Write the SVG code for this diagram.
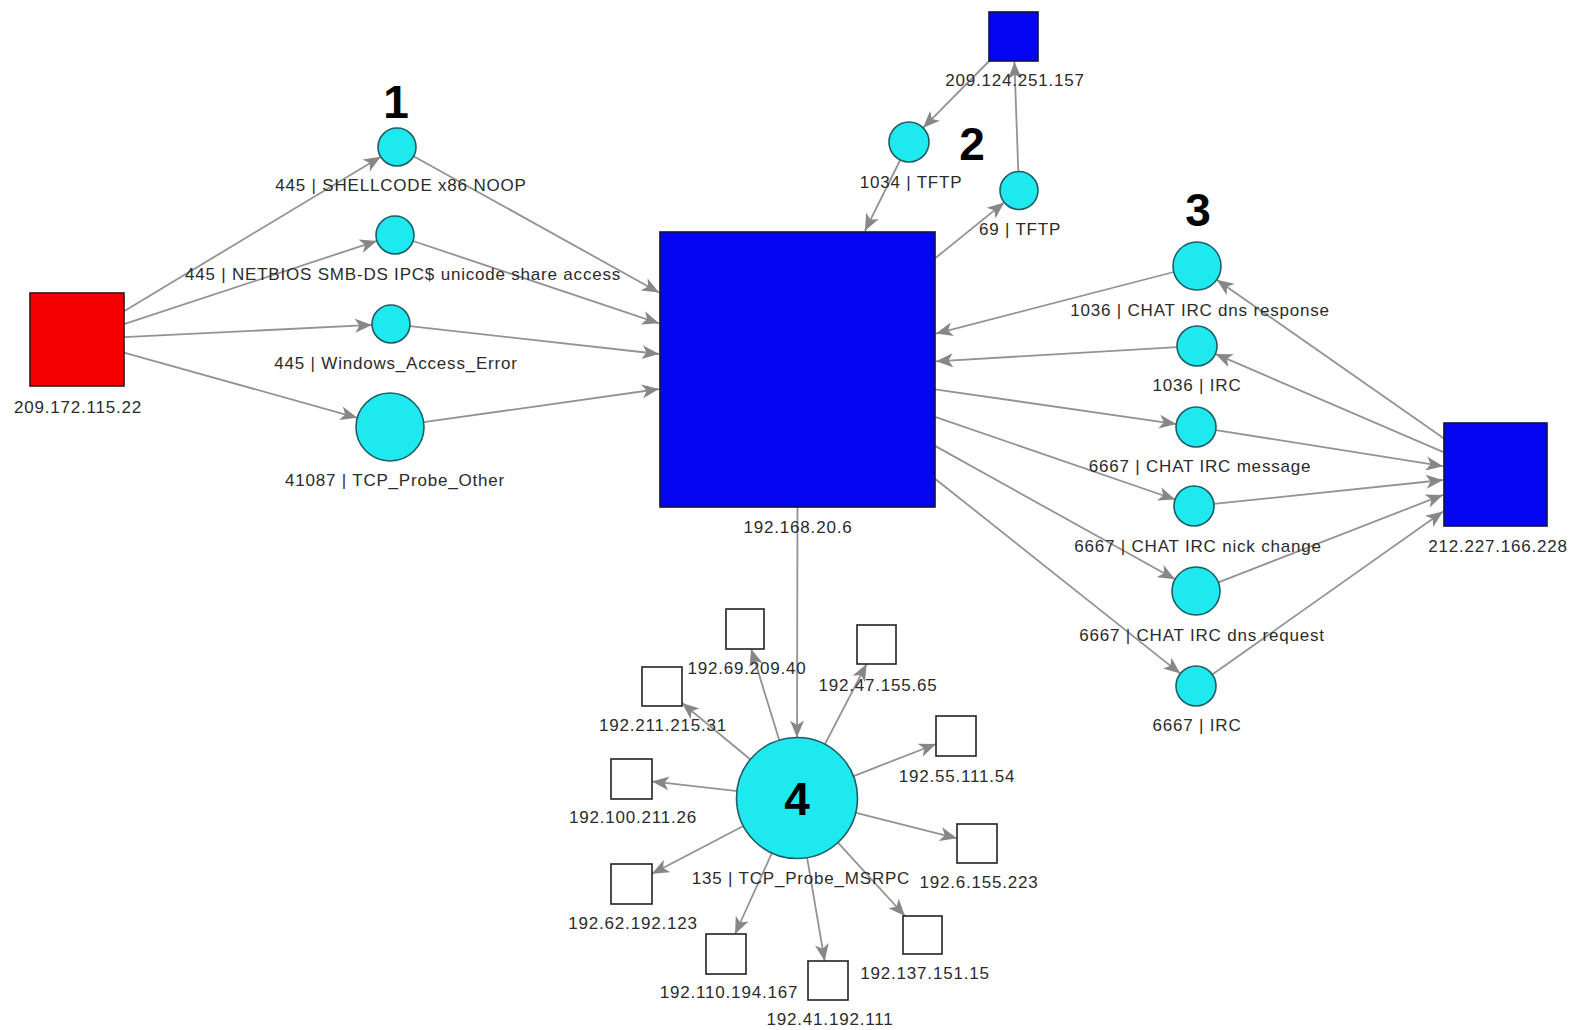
<svg xmlns="http://www.w3.org/2000/svg" width="1569" height="1030" viewBox="0 0 1569 1030">
  <defs>
    <style>
      .edge { stroke: #939393; stroke-width: 1.8; fill: none; marker-end: url(#arrow); }
      .event { fill: #1ee9ee; stroke: #1d5d63; stroke-width: 1.6; }
      .host-blue { fill: #0505f2; stroke: #10104a; stroke-width: 1.6; }
      .host-red { fill: #f50000; stroke: #3a1010; stroke-width: 1.6; }
      .host-white { fill: #ffffff; stroke: #222222; stroke-width: 1.6; }
      .lbl { font-family: "Liberation Sans", Arial, sans-serif; font-size: 17px; letter-spacing: 0.8px; fill: #2b2b2b; text-anchor: middle; }
      .num { font-family: "Liberation Sans", Arial, sans-serif; font-size: 46px; font-weight: bold; fill: #000000; text-anchor: middle; }
    </style>
    <marker id="arrow" markerUnits="userSpaceOnUse" markerWidth="18" markerHeight="15" refX="17" refY="7.5" orient="auto">
      <path d="M0,0.5 L17,7.5 L0,14.5 L4.5,7.5 Z" fill="#878787"/>
    </marker>
  </defs>
  <rect width="1569" height="1030" fill="#ffffff"/>

  <!-- connectors -->
  <g id="connectors">
    <!-- attacker to alert nodes -->
    <line class="edge" x1="124" y1="311.2" x2="380.7" y2="156.8"/>
    <line class="edge" x1="124" y1="324.1" x2="376.9" y2="240.9"/>
    <line class="edge" x1="124" y1="337.2" x2="372" y2="324.9"/>
    <line class="edge" x1="124" y1="352.6" x2="357.3" y2="417.8"/>
    <!-- alert nodes to victim -->
    <line class="edge" x1="413.6" y1="156.2" x2="659" y2="292.5"/>
    <line class="edge" x1="413" y1="241" x2="659" y2="323.3"/>
    <line class="edge" x1="409.9" y1="326.1" x2="659" y2="354"/>
    <line class="edge" x1="423.7" y1="422.2" x2="659" y2="389"/>
    <!-- TFTP exchange -->
    <line class="edge" x1="989.2" y1="61" x2="923.1" y2="127.8"/>
    <line class="edge" x1="900.2" y1="160" x2="864.9" y2="231"/>
    <line class="edge" x1="935" y1="258.4" x2="1004.2" y2="202.4"/>
    <line class="edge" x1="1018.3" y1="171.5" x2="1014.4" y2="62"/>
    <!-- IRC exchange -->
    <line class="edge" x1="1173.8" y1="272" x2="936" y2="333.6"/>
    <line class="edge" x1="1177" y1="347.2" x2="936" y2="361.3"/>
    <line class="edge" x1="935" y1="389.3" x2="1176.2" y2="424.1"/>
    <line class="edge" x1="935" y1="416.8" x2="1175.1" y2="499.5"/>
    <line class="edge" x1="935" y1="445.9" x2="1175" y2="579.3"/>
    <line class="edge" x1="935" y1="478.7" x2="1180.3" y2="673.6"/>
    <line class="edge" x1="1444" y1="438.5" x2="1216.7" y2="279.7"/>
    <line class="edge" x1="1444" y1="452.3" x2="1215.4" y2="353.9"/>
    <line class="edge" x1="1215.8" y1="430.1" x2="1443" y2="466.2"/>
    <line class="edge" x1="1213.9" y1="503.9" x2="1443" y2="480"/>
    <line class="edge" x1="1218.4" y1="582.3" x2="1443" y2="494.9"/>
    <line class="edge" x1="1212.3" y1="674.5" x2="1443" y2="511.6"/>
    <!-- victim to MSRPC probe -->
    <line class="edge" x1="797.5" y1="507" x2="797" y2="737.5"/>
    <!-- MSRPC probe fan-out -->
    <line class="edge" x1="779.4" y1="740.6" x2="751.2" y2="649"/>
    <line class="edge" x1="824.7" y1="744.7" x2="866.6" y2="664"/>
    <line class="edge" x1="750.7" y1="759.8" x2="682" y2="703"/>
    <line class="edge" x1="852.9" y1="776.3" x2="936" y2="744"/>
    <line class="edge" x1="737.4" y1="791.2" x2="652" y2="781.4"/>
    <line class="edge" x1="855.2" y1="812.7" x2="957" y2="838.3"/>
    <line class="edge" x1="743.8" y1="825.8" x2="652" y2="873.8"/>
    <line class="edge" x1="772.1" y1="852.6" x2="735.1" y2="934"/>
    <line class="edge" x1="837.5" y1="842.2" x2="905" y2="916"/>
    <line class="edge" x1="807" y1="857.2" x2="824.7" y2="961"/>
  </g>

  <!-- hosts -->
  <g id="host-209.172.115.22">
    <rect class="host-red" x="30" y="293" width="94" height="93"/>
    <text class="lbl" x="78" y="413">209.172.115.22</text>
  </g>
  <g id="host-192.168.20.6">
    <rect class="host-blue" x="660" y="232" width="275" height="275"/>
    <text class="lbl" x="798" y="533">192.168.20.6</text>
  </g>
  <g id="host-209.124.251.157">
    <rect class="host-blue" x="989" y="12" width="49" height="49"/>
    <text class="lbl" x="1015" y="86">209.124.251.157</text>
  </g>
  <g id="host-212.227.166.228">
    <rect class="host-blue" x="1444" y="423" width="103" height="103"/>
    <text class="lbl" x="1498" y="552">212.227.166.228</text>
  </g>

  <!-- alert events, group 1 -->
  <g id="evt-shellcode">
    <circle class="event" cx="397" cy="147" r="19"/>
    <text class="lbl" x="401" y="191">445 | SHELLCODE x86 NOOP</text>
  </g>
  <g id="evt-netbios">
    <circle class="event" cx="395" cy="235" r="19"/>
    <text class="lbl" x="403" y="280">445 | NETBIOS SMB-DS IPC$ unicode share access</text>
  </g>
  <g id="evt-win-access">
    <circle class="event" cx="391" cy="324" r="19"/>
    <text class="lbl" x="396" y="369">445 | Windows_Access_Error</text>
  </g>
  <g id="evt-tcp-probe-other">
    <circle class="event" cx="390" cy="427" r="34"/>
    <text class="lbl" x="395" y="486">41087 | TCP_Probe_Other</text>
  </g>

  <!-- group 2: TFTP -->
  <g id="evt-tftp-1034">
    <circle class="event" cx="909" cy="142" r="20"/>
    <text class="lbl" x="911" y="188">1034 | TFTP</text>
  </g>
  <g id="evt-tftp-69">
    <circle class="event" cx="1019" cy="190.5" r="19"/>
    <text class="lbl" x="1020" y="235">69 | TFTP</text>
  </g>

  <!-- group 3: IRC -->
  <g id="evt-irc-dns-response">
    <circle class="event" cx="1197" cy="266" r="24"/>
    <text class="lbl" x="1200" y="316">1036 | CHAT IRC dns response</text>
  </g>
  <g id="evt-irc-1036">
    <circle class="event" cx="1197" cy="346" r="20"/>
    <text class="lbl" x="1197" y="391">1036 | IRC</text>
  </g>
  <g id="evt-irc-message">
    <circle class="event" cx="1196" cy="427" r="20"/>
    <text class="lbl" x="1200" y="472">6667 | CHAT IRC message</text>
  </g>
  <g id="evt-irc-nick">
    <circle class="event" cx="1194" cy="506" r="20"/>
    <text class="lbl" x="1198" y="552">6667 | CHAT IRC nick change</text>
  </g>
  <g id="evt-irc-dns-request">
    <circle class="event" cx="1196" cy="591" r="24"/>
    <text class="lbl" x="1202" y="641">6667 | CHAT IRC dns request</text>
  </g>
  <g id="evt-irc-6667">
    <circle class="event" cx="1196" cy="686" r="20"/>
    <text class="lbl" x="1197" y="731">6667 | IRC</text>
  </g>

  <!-- group 4: MSRPC probe and scanned hosts -->
  <g id="evt-msrpc">
    <circle class="event" cx="797" cy="798" r="60.5"/>
    <text class="lbl" x="801" y="884">135 | TCP_Probe_MSRPC</text>
  </g>
  <g id="host-192.69.209.40">
    <rect class="host-white" x="726" y="609" width="38" height="40"/>
    <text class="lbl" x="747" y="674">192.69.209.40</text>
  </g>
  <g id="host-192.47.155.65">
    <rect class="host-white" x="857" y="625" width="39" height="39"/>
    <text class="lbl" x="878" y="691">192.47.155.65</text>
  </g>
  <g id="host-192.211.215.31">
    <rect class="host-white" x="642" y="667" width="40" height="39"/>
    <text class="lbl" x="663" y="731">192.211.215.31</text>
  </g>
  <g id="host-192.55.111.54">
    <rect class="host-white" x="936" y="716" width="40" height="40"/>
    <text class="lbl" x="957" y="782">192.55.111.54</text>
  </g>
  <g id="host-192.100.211.26">
    <rect class="host-white" x="611" y="759" width="41" height="40"/>
    <text class="lbl" x="633" y="823">192.100.211.26</text>
  </g>
  <g id="host-192.6.155.223">
    <rect class="host-white" x="957" y="824" width="40" height="39"/>
    <text class="lbl" x="979" y="888">192.6.155.223</text>
  </g>
  <g id="host-192.62.192.123">
    <rect class="host-white" x="611" y="864" width="41" height="40"/>
    <text class="lbl" x="633" y="929">192.62.192.123</text>
  </g>
  <g id="host-192.110.194.167">
    <rect class="host-white" x="706" y="934" width="40" height="40"/>
    <text class="lbl" x="729" y="998">192.110.194.167</text>
  </g>
  <g id="host-192.137.151.15">
    <rect class="host-white" x="903" y="916" width="39" height="38"/>
    <text class="lbl" x="925" y="979">192.137.151.15</text>
  </g>
  <g id="host-192.41.192.111">
    <rect class="host-white" x="808" y="961" width="40" height="39"/>
    <text class="lbl" x="830" y="1025">192.41.192.111</text>
  </g>

  <!-- cluster numbers -->
  <g id="cluster-labels">
    <text class="num" x="396" y="118">1</text>
    <text class="num" x="972" y="160">2</text>
    <text class="num" x="1198" y="226">3</text>
    <text class="num" x="797" y="815">4</text>
  </g>
</svg>
